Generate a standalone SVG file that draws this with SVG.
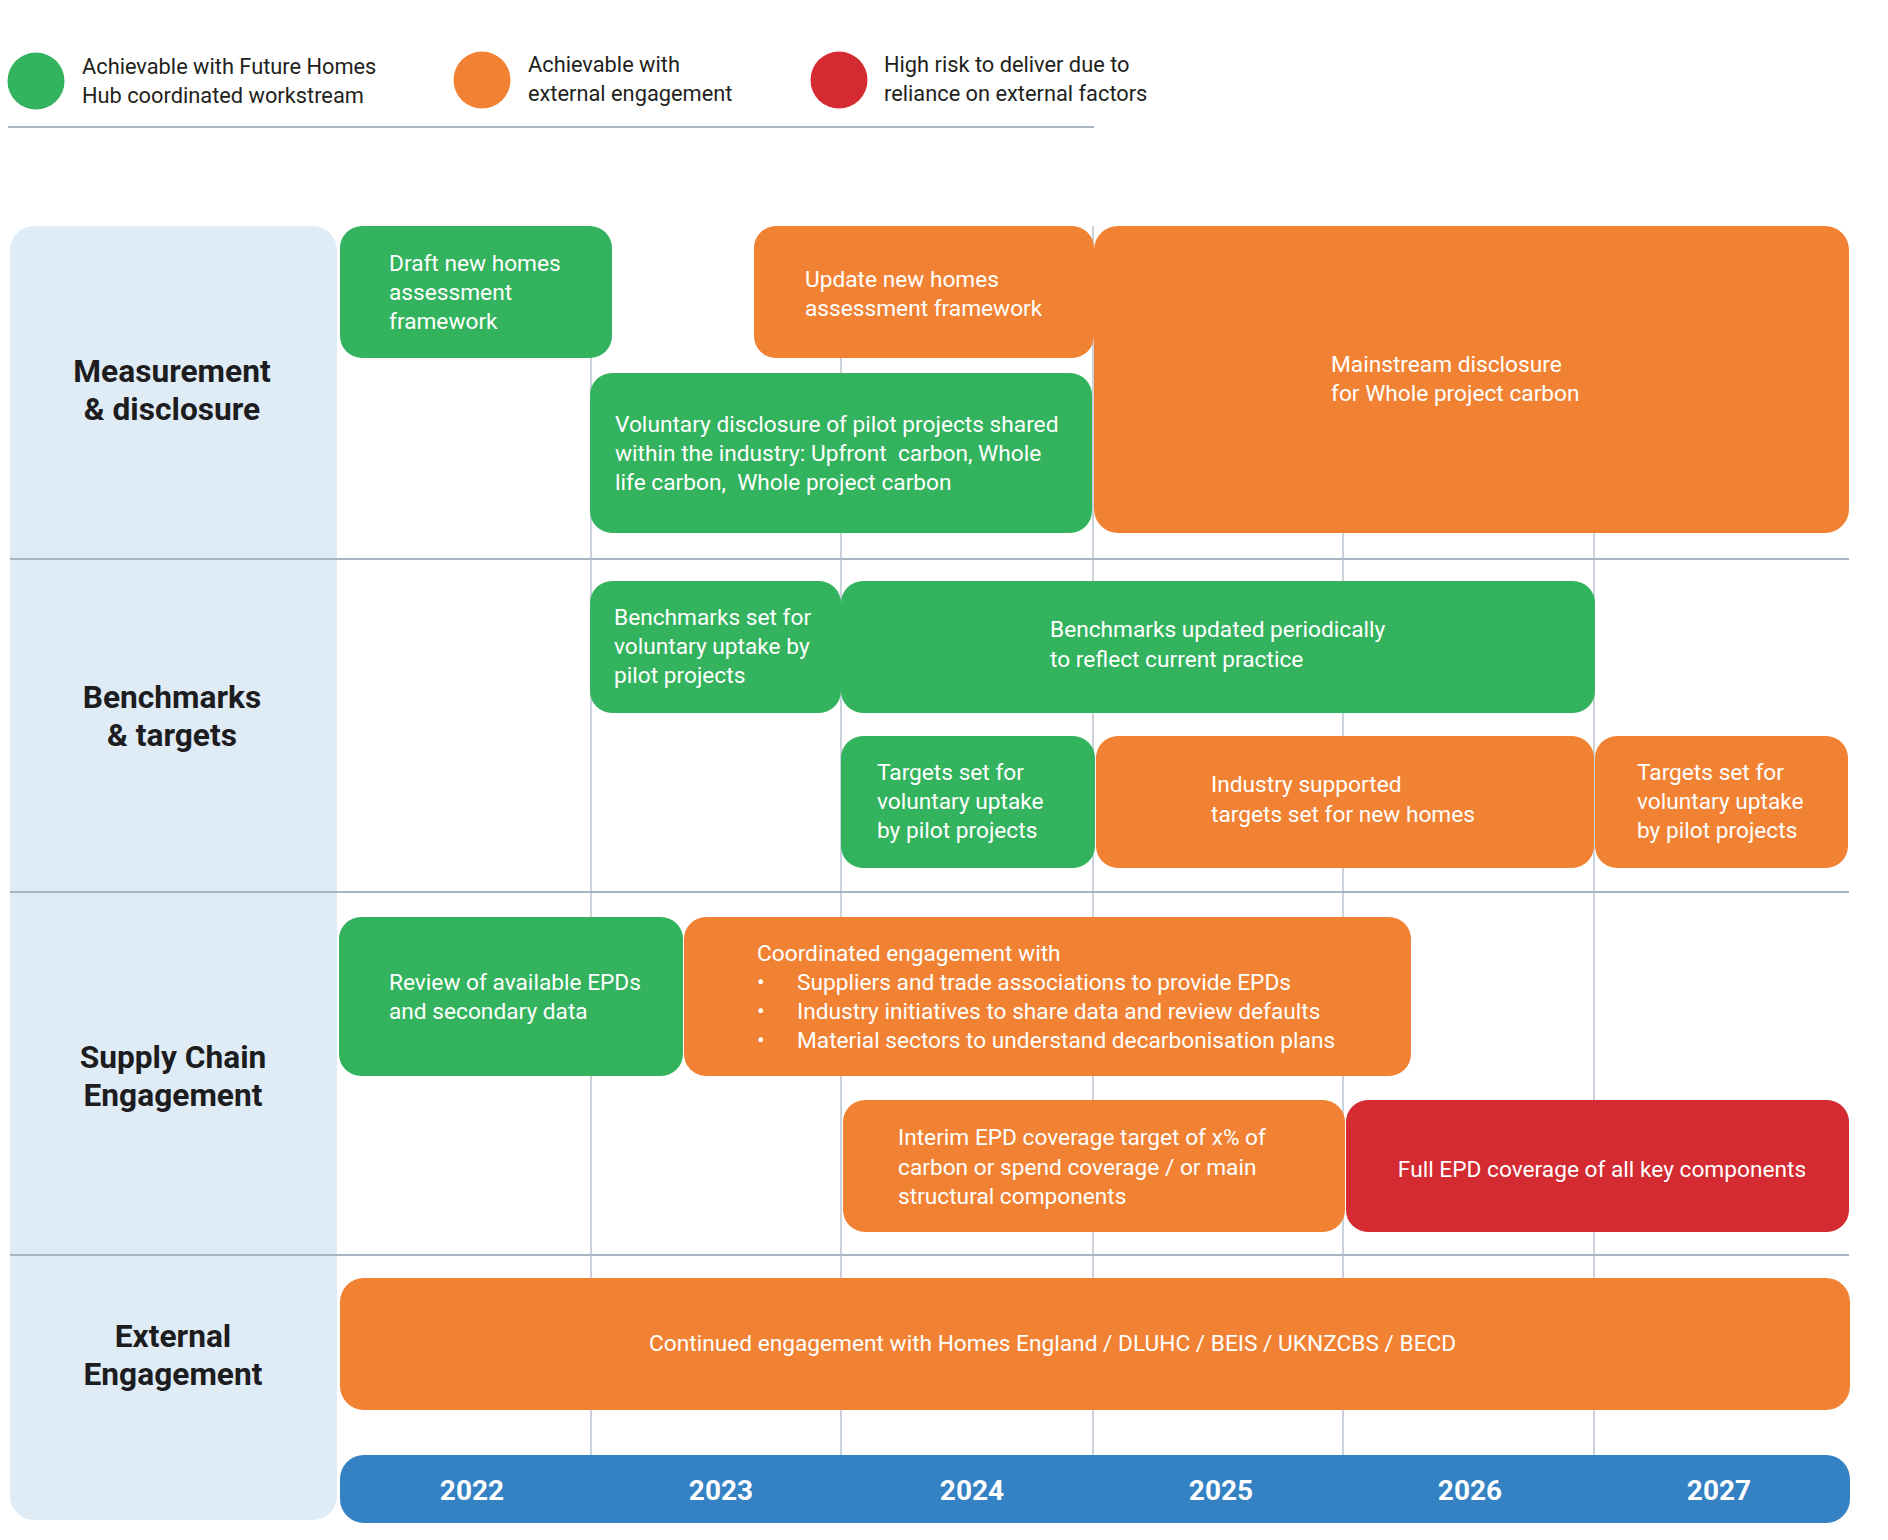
<svg xmlns="http://www.w3.org/2000/svg" width="1888" height="1540" viewBox="0 0 1888 1540">
<style>
text{font-family:Roboto,"Liberation Sans",Arial,sans-serif}
.leg{font-size:21.8px;fill:#231f20}
.lbl{font-size:31.7px;font-weight:bold;fill:#1d1d1f;text-anchor:middle}
.t{font-size:22.7px;fill:#ffffff}
.yr{font-size:28px;font-weight:bold;fill:#ffffff;text-anchor:middle}
.g{fill:#33b35e}
.o{fill:#f28233}
.r{fill:#d42a31}
.grid{stroke:#b9c3cf;stroke-width:1.5}
.sep{stroke:#a9b4c1;stroke-width:2}
</style>
<rect width="1888" height="1540" fill="#ffffff"/>

<g id="legend">
  <circle cx="36" cy="81" r="28.5" class="g"/>
  <text class="leg" x="82" y="74">Achievable with Future Homes</text>
  <text class="leg" x="82" y="103">Hub coordinated workstream</text>
  <circle cx="482" cy="80" r="28.5" class="o"/>
  <text class="leg" x="528" y="72">Achievable with</text>
  <text class="leg" x="528" y="101">external engagement</text>
  <circle cx="839" cy="80" r="28.5" class="r"/>
  <text class="leg" x="884" y="72">High risk to deliver due to</text>
  <text class="leg" x="884" y="101">reliance on external factors</text>
  <line x1="8" y1="127" x2="1094" y2="127" stroke="#aab5c0" stroke-width="2"/>
</g>

<rect id="label-panel" x="10" y="226" width="327" height="1294" rx="24" fill="#dfecf6"/>

<g id="connectors">
  <line class="grid" x1="591" y1="226" x2="591" y2="1455"/>
  <line class="grid" x1="841" y1="226" x2="841" y2="1455"/>
  <line class="grid" x1="1093" y1="226" x2="1093" y2="1455"/>
  <line class="grid" x1="1343" y1="226" x2="1343" y2="1455"/>
  <line class="grid" x1="1594" y1="226" x2="1594" y2="1455"/>
  <line class="sep" x1="10" y1="559" x2="1849" y2="559"/>
  <line class="sep" x1="10" y1="892" x2="1849" y2="892"/>
  <line class="sep" x1="10" y1="1255" x2="1849" y2="1255"/>
</g>

<g id="row-labels">
  <text class="lbl" x="172" y="382">Measurement</text>
  <text class="lbl" x="172" y="420">&amp; disclosure</text>
  <text class="lbl" x="172" y="708">Benchmarks</text>
  <text class="lbl" x="172" y="746">&amp; targets</text>
  <text class="lbl" x="173" y="1068">Supply Chain</text>
  <text class="lbl" x="173" y="1106">Engagement</text>
  <text class="lbl" x="173" y="1347">External</text>
  <text class="lbl" x="173" y="1385">Engagement</text>
</g>

<g id="draft-framework">
  <rect x="340" y="226" width="272" height="132" rx="22" class="g"/>
  <text class="t" x="389" y="271">Draft new homes</text>
  <text class="t" x="389" y="300">assessment</text>
  <text class="t" x="389" y="329">framework</text>
</g>
<g id="update-framework">
  <rect x="754" y="226" width="340" height="132" rx="22" class="o"/>
  <text class="t" x="805" y="287">Update new homes</text>
  <text class="t" x="805" y="316">assessment framework</text>
</g>
<g id="voluntary-disclosure">
  <rect x="590" y="373" width="502" height="160" rx="22" class="g"/>
  <text class="t" x="615" y="432">Voluntary disclosure of pilot projects shared</text>
  <text class="t" x="615" y="461" xml:space="preserve">within the industry: Upfront  carbon, Whole</text>
  <text class="t" x="615" y="490" xml:space="preserve">life carbon,  Whole project carbon</text>
</g>
<g id="mainstream-disclosure">
  <rect x="1094" y="226" width="755" height="307" rx="24" class="o"/>
  <text class="t" x="1331" y="372">Mainstream disclosure</text>
  <text class="t" x="1331" y="401">for Whole project carbon</text>
</g>

<g id="benchmarks-set">
  <rect x="590" y="581" width="251" height="132" rx="22" class="g"/>
  <text class="t" x="614" y="625">Benchmarks set for</text>
  <text class="t" x="614" y="654">voluntary uptake by</text>
  <text class="t" x="614" y="683">pilot projects</text>
</g>
<g id="benchmarks-updated">
  <rect x="841" y="581" width="754" height="132" rx="22" class="g"/>
  <text class="t" x="1050" y="637">Benchmarks updated periodically</text>
  <text class="t" x="1050" y="667">to reflect current practice</text>
</g>
<g id="targets-pilot">
  <rect x="841" y="736" width="254" height="132" rx="22" class="g"/>
  <text class="t" x="877" y="780">Targets set for</text>
  <text class="t" x="877" y="809">voluntary uptake</text>
  <text class="t" x="877" y="838">by pilot projects</text>
</g>
<g id="industry-targets">
  <rect x="1096" y="736" width="498" height="132" rx="22" class="o"/>
  <text class="t" x="1211" y="792">Industry supported</text>
  <text class="t" x="1211" y="822">targets set for new homes</text>
</g>
<g id="targets-pilot-2027">
  <rect x="1595" y="736" width="253" height="132" rx="22" class="o"/>
  <text class="t" x="1637" y="780">Targets set for</text>
  <text class="t" x="1637" y="809">voluntary uptake</text>
  <text class="t" x="1637" y="838">by pilot projects</text>
</g>

<g id="review-epds">
  <rect x="339" y="917" width="344" height="159" rx="22" class="g"/>
  <text class="t" x="389" y="990">Review of available EPDs</text>
  <text class="t" x="389" y="1019">and secondary data</text>
</g>
<g id="coordinated-engagement">
  <rect x="684" y="917" width="727" height="159" rx="22" class="o"/>
  <text class="t" x="757" y="961">Coordinated engagement with</text>
  <text class="t" x="757" y="990">•</text>
  <text class="t" x="797" y="990">Suppliers and trade associations to provide EPDs</text>
  <text class="t" x="757" y="1019">•</text>
  <text class="t" x="797" y="1019">Industry initiatives to share data and review defaults</text>
  <text class="t" x="757" y="1048">•</text>
  <text class="t" x="797" y="1048">Material sectors to understand decarbonisation plans</text>
</g>
<g id="interim-epd">
  <rect x="843" y="1100" width="502" height="132" rx="22" class="o"/>
  <text class="t" x="898" y="1145">Interim EPD coverage target of x% of</text>
  <text class="t" x="898" y="1175">carbon or spend coverage / or main</text>
  <text class="t" x="898" y="1204">structural components</text>
</g>
<g id="full-epd">
  <rect x="1346" y="1100" width="503" height="132" rx="22" class="r"/>
  <text class="t" x="1602" y="1177" text-anchor="middle">Full EPD coverage of all key components</text>
</g>

<g id="continued-engagement">
  <rect x="340" y="1278" width="1510" height="132" rx="24" class="o"/>
  <text class="t" x="649" y="1351">Continued engagement with Homes England / DLUHC / BEIS / UKNZCBS / BECD</text>
</g>

<g id="years">
  <rect x="340" y="1455" width="1510" height="68" rx="24" fill="#3481c3"/>
  <text class="yr" x="472" y="1500">2022</text>
  <text class="yr" x="721" y="1500">2023</text>
  <text class="yr" x="972" y="1500">2024</text>
  <text class="yr" x="1221" y="1500">2025</text>
  <text class="yr" x="1470" y="1500">2026</text>
  <text class="yr" x="1719" y="1500">2027</text>
</g>
</svg>
